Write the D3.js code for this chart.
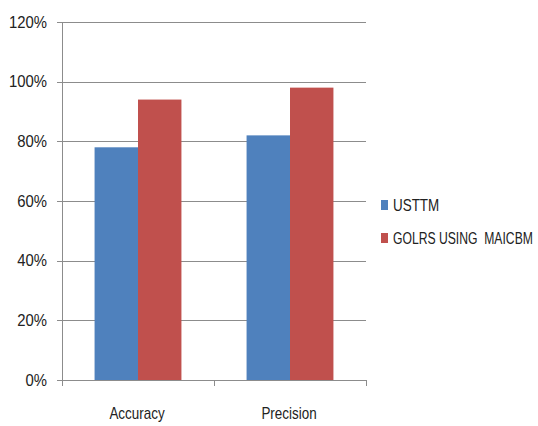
<!DOCTYPE html>
<html><head><meta charset="utf-8">
<script src="https://cdn.jsdelivr.net/npm/d3@7"></script>
<style>body{margin:0;background:#fff}text{font-family:"Liberation Sans","Arial",sans-serif;fill:#222}</style>
</head><body>
<svg id="c" width="538" height="426"></svg>
<script>
const categories = ["Accuracy", "Precision"];
const seriesNames = ["USTTM", "GOLRS USING  MAICBM"];
const usttm = [78, 82];
const golrs = [94, 98];
const yTicks = [0, 20, 40, 60, 80, 100, 120];
const colors = ["#4F81BD", "#C0504D"];

const svg = d3.select("#c");
const mLeft = 62, mRight = 366, mTop = 22, mBottom = 380;
const x = d3.scaleBand().domain(categories).range([mLeft, mRight]).paddingInner(0).paddingOuter(0);
const x1 = d3.scaleBand().domain([0,1]).range([0, x.bandwidth()]).paddingOuter(0.75).paddingInner(0);
const y = d3.scaleLinear().domain([0, 120]).range([mBottom, mTop]);
const sx = 0.84;

// gridlines
svg.append("g").selectAll("line").data(yTicks).join("line")
  .attr("x1", mLeft - 5).attr("x2", mRight).attr("y1", d => Math.round(y(d)) + 0.5).attr("y2", d => Math.round(y(d)) + 0.5)
  .attr("stroke", "#8c8c8c").attr("stroke-width", 1);
// y axis line
svg.append("line").attr("x1", mLeft + 0.5).attr("x2", mLeft + 0.5).attr("y1", mTop).attr("y2", mBottom + 6)
  .attr("stroke", "#8c8c8c");
// category ticks
const catTicks = [mLeft, mLeft + x.bandwidth(), mRight];
svg.append("g").selectAll("line").data(catTicks).join("line")
  .attr("x1", d => d + 0.5).attr("x2", d => d + 0.5).attr("y1", mBottom).attr("y2", mBottom + 6)
  .attr("stroke", "#8c8c8c");

// y labels
svg.append("g").selectAll("g").data(yTicks).join("g")
  .attr("transform", d => `translate(47,${y(d) + 5.5}) scale(0.93,1)`)
  .append("text").attr("text-anchor", "end")
  .style("font-size", "16px").text(d => d + "%");

// bars
const data = categories.map((c, i) => ({c, vals: [usttm[i], golrs[i]]}));
const g = svg.append("g").selectAll("g").data(data).join("g")
  .attr("transform", d => `translate(${x(d.c)},0)`);
g.selectAll("rect").data(d => d.vals.map((v, j) => ({v, j}))).join("rect")
  .attr("x", d => x1(d.j)).attr("width", x1.bandwidth())
  .attr("y", d => y(d.v)).attr("height", d => y(0) - y(d.v))
  .attr("fill", d => colors[d.j]);

// category labels
svg.append("g").selectAll("g").data(categories).join("g")
  .attr("transform", d => `translate(${x(d) + x.bandwidth() / 2 - 1},419) scale(${sx},1)`)
  .append("text").attr("text-anchor", "middle")
  .style("font-size", "16px").text(d => d);

// legend
const leg = svg.append("g").selectAll("g").data(seriesNames).join("g")
  .attr("transform", (d, i) => `translate(381,${200 + i * 33})`);
leg.append("rect").attr("width", 7).attr("height", 10).attr("fill", (d, i) => colors[i]);
const lg = leg.append("g");
lg.append("text").style("font-size", "16px")
  .style("white-space", "pre").attr("xml:space", "preserve").text(d => d);
lg.each(function() {
  const w = d3.select(this).select("text").node().getComputedTextLength();
  const s = Math.min(sx, 140 / w);
  d3.select(this).attr("transform", `translate(12,10.5) scale(${s},1)`);
});
</script>
</body></html>
